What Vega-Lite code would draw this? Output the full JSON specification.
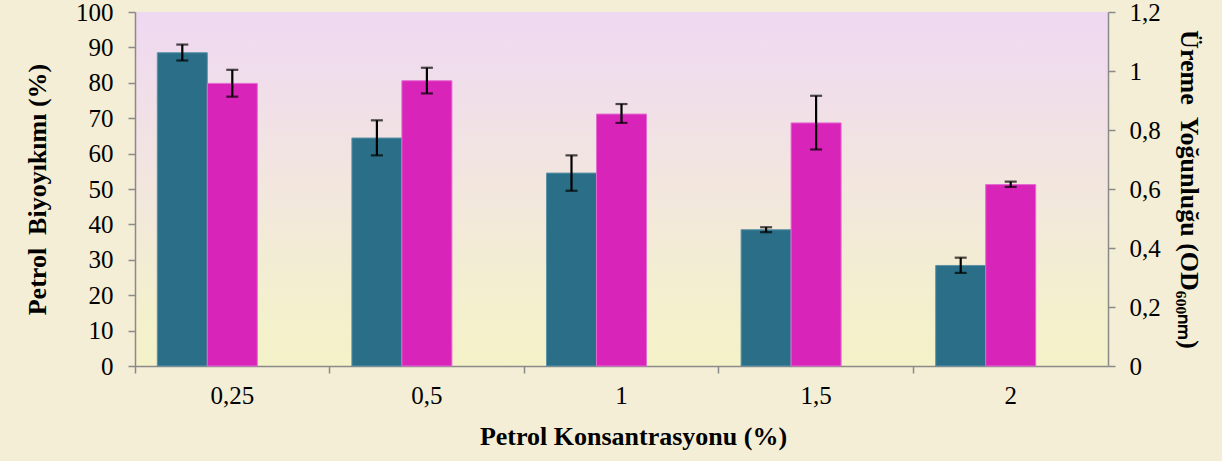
{
  "$schema": "https://vega.github.io/schema/vega-lite/v6.json",
  "width": 973,
  "height": 354,
  "autosize": "none",
  "padding": {"left": 135, "top": 12, "right": 114, "bottom": 95},
  "background": "#F3EED5",
  "config": {
    "locale": {"number": {"decimal": ",", "thousands": ".", "grouping": [3], "currency": ["", " €"]}},
    "view": {
      "stroke": null,
      "fill": {"gradient": "linear", "x1": 0, "y1": 0, "x2": 0, "y2": 1,
        "stops": [
          {"offset": 0, "color": "#EFD8F2"},
          {"offset": 0.45, "color": "#F2E5E0"},
          {"offset": 0.8, "color": "#F3EFCF"},
          {"offset": 1, "color": "#F4F2C8"}
        ]}
    },
    "axis": {
      "labelFont": "Liberation Serif",
      "labelFontSize": 25,
      "labelColor": "#000000",
      "titleFont": "Liberation Serif",
      "titleFontSize": 26,
      "titleFontWeight": "bold",
      "titleColor": "#000000",
      "domainColor": "#8A8A8A",
      "domainWidth": 1.5,
      "tickColor": "#8A8A8A",
      "tickWidth": 1.5,
      "tickSize": 7,
      "grid": false
    }
  },
  "data": {
    "values": [
      {"konsantrasyon": "0,25", "seri": "biyo", "deger": 88.5, "alt": 86.3, "ust": 90.8},
      {"konsantrasyon": "0,5", "seri": "biyo", "deger": 64.4, "alt": 59.5, "ust": 69.4},
      {"konsantrasyon": "1", "seri": "biyo", "deger": 54.5, "alt": 49.5, "ust": 59.5},
      {"konsantrasyon": "1,5", "seri": "biyo", "deger": 38.5, "alt": 37.8, "ust": 39.2},
      {"konsantrasyon": "2", "seri": "biyo", "deger": 28.4, "alt": 26.3, "ust": 30.6},
      {"konsantrasyon": "0,25", "seri": "od", "deger": 0.958, "alt": 0.913, "ust": 1.004},
      {"konsantrasyon": "0,5", "seri": "od", "deger": 0.967, "alt": 0.924, "ust": 1.011},
      {"konsantrasyon": "1", "seri": "od", "deger": 0.854, "alt": 0.824, "ust": 0.888},
      {"konsantrasyon": "1,5", "seri": "od", "deger": 0.824, "alt": 0.734, "ust": 0.916},
      {"konsantrasyon": "2", "seri": "od", "deger": 0.615, "alt": 0.607, "ust": 0.625}
    ]
  },
  "encoding": {
    "x": {
      "field": "konsantrasyon",
      "type": "nominal",
      "sort": ["0,25", "0,5", "1", "1,5", "2"],
      "scale": {"paddingInner": 0, "paddingOuter": 0},
      "axis": {
        "title": "Petrol Konsantrasyonu (%)",
        "labelAngle": 0,
        "bandPosition": 0,
        "labelPadding": 10,
        "titlePadding": 15,
        "titleX": 498
      }
    },
    "xOffset": {
      "field": "seri",
      "type": "nominal",
      "scale": {"domain": ["biyo", "od", "bos"], "paddingInner": 0, "paddingOuter": 0.446}
    }
  },
  "layer": [
    {
      "transform": [{"filter": "datum.seri === 'biyo'"}],
      "layer": [
        {
          "mark": {"type": "bar", "color": "#2A6F87", "stroke": "#5E93A6", "strokeWidth": 1},
          "encoding": {
            "y": {
              "field": "deger", "type": "quantitative",
              "scale": {"domain": [0, 100], "nice": false},
              "axis": {"orient": "left", "title": "Petrol\u00a0 Biyoyıkımı (%)", "values": [0, 10, 20, 30, 40, 50, 60, 70, 80, 90, 100], "format": "d", "labelPadding": 15, "titlePadding": 25}
            }
          }
        },
        {
          "mark": {"type": "rule", "color": "#000000", "strokeWidth": 2.2},
          "encoding": {
            "y": {
              "field": "alt", "type": "quantitative",
              "scale": {"domain": [0, 100], "nice": false},
              "axis": {"orient": "left", "title": "Petrol\u00a0 Biyoyıkımı (%)", "values": [0, 10, 20, 30, 40, 50, 60, 70, 80, 90, 100], "format": "d", "labelPadding": 15, "titlePadding": 25}
            },
            "y2": {"field": "ust"}
          }
        },
        {
          "mark": {"type": "tick", "color": "#000000", "size": 12, "thickness": 2.2},
          "encoding": {
            "y": {
              "field": "alt", "type": "quantitative",
              "scale": {"domain": [0, 100], "nice": false},
              "axis": {"orient": "left", "title": "Petrol\u00a0 Biyoyıkımı (%)", "values": [0, 10, 20, 30, 40, 50, 60, 70, 80, 90, 100], "format": "d", "labelPadding": 15, "titlePadding": 25}
            }
          }
        },
        {
          "mark": {"type": "tick", "color": "#000000", "size": 12, "thickness": 2.2},
          "encoding": {
            "y": {
              "field": "ust", "type": "quantitative",
              "scale": {"domain": [0, 100], "nice": false},
              "axis": {"orient": "left", "title": "Petrol\u00a0 Biyoyıkımı (%)", "values": [0, 10, 20, 30, 40, 50, 60, 70, 80, 90, 100], "format": "d", "labelPadding": 15, "titlePadding": 25}
            }
          }
        }
      ]
    },
    {
      "transform": [{"filter": "datum.seri === 'od'"}],
      "layer": [
        {
          "mark": {"type": "bar", "color": "#D924BA", "stroke": "#E36BD0", "strokeWidth": 1},
          "encoding": {
            "y": {
              "field": "deger", "type": "quantitative",
              "scale": {"domain": [0, 1.2], "nice": false},
              "axis": {"orient": "right", "title": "Üreme\u00a0 Yoğunluğu (OD₆₀₀ₙₘ)", "values": [0, 0.2, 0.4, 0.6, 0.8, 1, 1.2], "format": ".1~f", "labelPadding": 14, "titlePadding": 15}
            }
          }
        },
        {
          "mark": {"type": "rule", "color": "#000000", "strokeWidth": 2.2},
          "encoding": {
            "y": {
              "field": "alt", "type": "quantitative",
              "scale": {"domain": [0, 1.2], "nice": false},
              "axis": {"orient": "right", "title": "Üreme\u00a0 Yoğunluğu (OD₆₀₀ₙₘ)", "values": [0, 0.2, 0.4, 0.6, 0.8, 1, 1.2], "format": ".1~f", "labelPadding": 14, "titlePadding": 15}
            },
            "y2": {"field": "ust"}
          }
        },
        {
          "mark": {"type": "tick", "color": "#000000", "size": 12, "thickness": 2.2},
          "encoding": {
            "y": {
              "field": "alt", "type": "quantitative",
              "scale": {"domain": [0, 1.2], "nice": false},
              "axis": {"orient": "right", "title": "Üreme\u00a0 Yoğunluğu (OD₆₀₀ₙₘ)", "values": [0, 0.2, 0.4, 0.6, 0.8, 1, 1.2], "format": ".1~f", "labelPadding": 14, "titlePadding": 15}
            }
          }
        },
        {
          "mark": {"type": "tick", "color": "#000000", "size": 12, "thickness": 2.2},
          "encoding": {
            "y": {
              "field": "ust", "type": "quantitative",
              "scale": {"domain": [0, 1.2], "nice": false},
              "axis": {"orient": "right", "title": "Üreme\u00a0 Yoğunluğu (OD₆₀₀ₙₘ)", "values": [0, 0.2, 0.4, 0.6, 0.8, 1, 1.2], "format": ".1~f", "labelPadding": 14, "titlePadding": 15}
            }
          }
        }
      ]
    }
  ],
  "resolve": {"scale": {"y": "independent"}}
}
